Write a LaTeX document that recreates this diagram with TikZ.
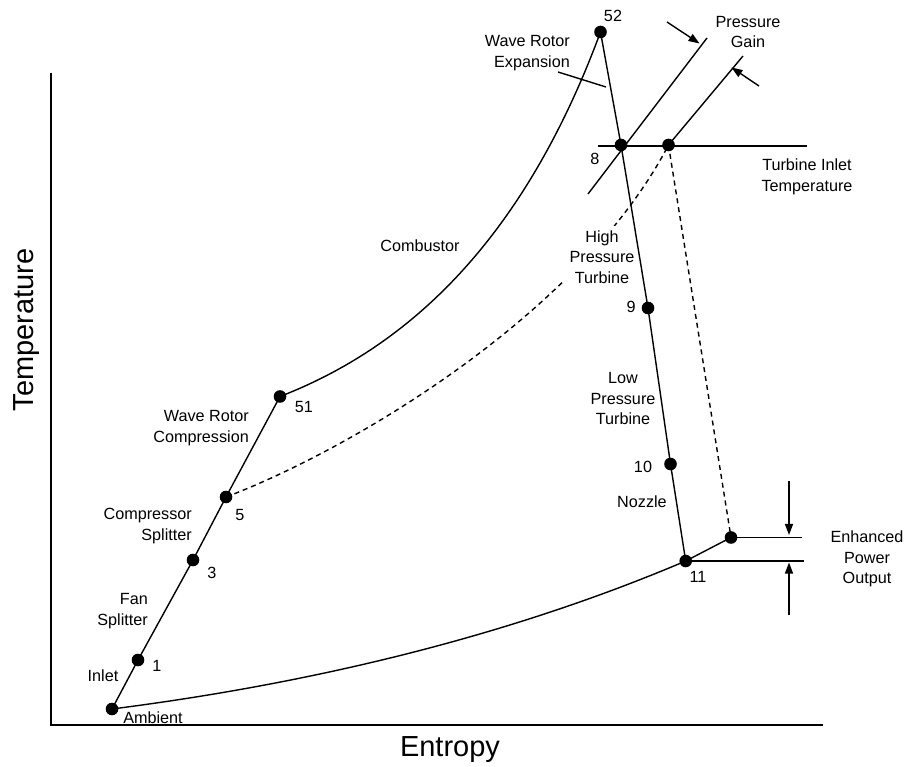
\documentclass[tikz,border=0pt]{standalone}
\usepackage{fontspec}
\setmainfont{Liberation Sans}
\usetikzlibrary{arrows.meta}
\begin{document}
\begin{tikzpicture}[x=1pt,y=-1pt,
  lbl/.style={font=\fontsize{16.2}{20.5}\selectfont, inner sep=0pt},
  axlbl/.style={font=\fontsize{29}{34}\selectfont, inner sep=0pt},
  curve/.style={line width=1.4pt},
  axis/.style={line width=1.9pt},
  dashcurve/.style={line width=1.4pt, dash pattern=on 5pt off 4pt},
  arr/.style={line width=1.4pt,-{Triangle[length=11pt,width=8pt]}},
  dotfill/.style={fill=black},
]
\useasboundingbox (0,0) rectangle (906,767);

% state points
\coordinate (amb) at (112,709);
\coordinate (p1) at (138,660);
\coordinate (p3) at (193,560);
\coordinate (p5) at (226,497);
\coordinate (p51) at (280,396.5);
\coordinate (p52) at (600.5,32);
\coordinate (p8) at (621,145);
\coordinate (p8b) at (668.5,145);
\coordinate (p9) at (648,308);
\coordinate (p10) at (670.5,464);
\coordinate (p11) at (685.7,561);
\coordinate (pe) at (731,537.5);

% helper coordinates
\coordinate (axtop) at (51,73);
\coordinate (axorig) at (51,725);
\coordinate (axend) at (823,725);
\coordinate (titL) at (598,146);
\coordinate (titR) at (807,146);
\coordinate (pl1a) at (588,194);
\coordinate (pl1b) at (707,38);
\coordinate (pl2b) at (743,56);
\coordinate (ga1) at (667,22);
\coordinate (ga1t) at (699.5,43.5);
\coordinate (ga2) at (759,86);
\coordinate (ga2t) at (731.5,67.5);
\coordinate (eR1) at (802,537.5);
\coordinate (eR2) at (804,561);
\coordinate (ad1) at (789,481);
\coordinate (ad1t) at (789,535);
\coordinate (au1) at (789,615);
\coordinate (au1t) at (789,562.5);
\coordinate (wl1) at (558,72);
\coordinate (wl2) at (606,87);

% axes
\draw[axis] (axtop) -- (axorig) -- (axend);

% dashed enhanced path
\draw[dashcurve] (p5) .. controls (350,450) and (580,315) .. (p8b);
\draw[dashcurve] (p8b) -- (pe);

% label that masks the dashed curve
\node[lbl,align=center,fill=white,inner xsep=6pt,inner ysep=5pt] (thpt) at (602,257) {High\\Pressure\\Turbine};

% cycle
\draw[curve] (amb) -- (p1) -- (p3) -- (p5) -- (p51);
\draw[curve] (p51) .. controls (400,350) and (520,250) .. (p52);
\draw[curve] (p52) -- (p8) -- (p9) -- (p10) -- (p11);
\draw[curve] (amb) .. controls (300,685) and (500,640) .. (p11);
\draw[curve] (p11) -- (pe);

% auxiliary lines
\draw[curve] (titL) -- (titR);
\draw[curve] (pl1a) -- (pl1b);
\draw[curve] (p8b) -- (pl2b);
\draw[curve] (wl1) -- (wl2);
\draw[curve] (pe) -- (eR1);
\draw[curve] (p11) -- (eR2);
\draw[arr] (ga1) -- (ga1t);
\draw[arr] (ga2) -- (ga2t);
\draw[arr] (ad1) -- (ad1t);
\draw[arr] (au1) -- (au1t);

% dots
\foreach \p in {amb,p1,p3,p5,p51,p52,p8,p8b,p9,p10,p11,pe}
  \fill[dotfill] (\p) circle (6.3);

% labels
\node[lbl] (t52) at (613,16) {52};
\node[lbl] (t8) at (595,159) {8};
\node[lbl] (t51) at (304,407) {51};
\node[lbl] (t5) at (240,515) {5};
\node[lbl] (t3) at (212,573) {3};
\node[lbl] (t1) at (157,666) {1};
\node[lbl] (tin) at (103,676) {Inlet};
\node[lbl] (tamb) at (153,718) {Ambient};
\node[lbl] (tcomb) at (420,246) {Combustor};
\node[lbl] (t9) at (631,307) {9};
\node[lbl] (t10) at (643,467) {10};
\node[lbl] (tnoz) at (642,502) {Nozzle};
\node[lbl] (t11) at (698,577) {11};
\node[lbl,align=right,anchor=east] (twrc) at (249,428) {Wave Rotor\\Compression};
\node[lbl,align=right,anchor=east] (tcs) at (192,526) {Compressor\\Splitter};
\node[lbl,align=right,anchor=east] (tfs) at (148,611) {Fan\\Splitter};
\node[lbl,align=right,anchor=east] (twre) at (570,53) {Wave Rotor\\Expansion};
\node[lbl,align=center] (tlpt) at (623,399) {Low\\Pressure\\Turbine};
\node[lbl,align=center] (tpg) at (748,32) {Pressure\\Gain};
\node[lbl,align=center] (ttit) at (807,177) {Turbine Inlet\\Temperature};
\node[lbl,align=center] (tepo) at (867,559) {Enhanced\\Power\\Output};
\node[axlbl] (tent) at (450,750) {Entropy};
\node[axlbl,rotate=90] (ttemp) at (27,330) {Temperature};
\end{tikzpicture}
\end{document}
